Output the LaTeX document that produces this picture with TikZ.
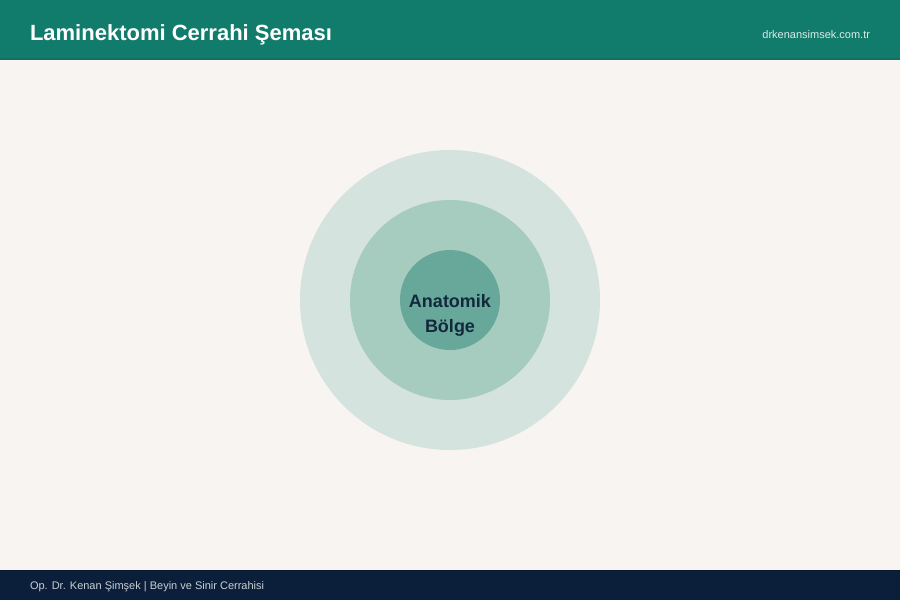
\documentclass[tikz,border=0pt]{standalone}
\usepackage{fontspec}
\setmainfont{Liberation Sans}
\usetikzlibrary{positioning}
\definecolor{headteal}{HTML}{127C6C}
\definecolor{headline}{HTML}{0F7062}
\definecolor{pagebg}{HTML}{F7F4F1}
\definecolor{footnavy}{HTML}{0B1F3A}
\definecolor{ringout}{HTML}{D5E3DE}
\definecolor{ringmid}{HTML}{A6CBBF}
\definecolor{ringin}{HTML}{67A89A}
\definecolor{coretext}{HTML}{12283D}
\tikzset{
    x=1pt, y=-1pt,
    bar/.style = { inner sep=0pt, outer sep=0pt },
    title/.style = { bar, anchor=west, font=\fontsize{22}{25}\selectfont\bfseries, color=white },
    site/.style = { bar, anchor=east, font=\fontsize{11}{13}\selectfont, color=white!85!headteal },
    foot/.style = { bar, anchor=west, font=\fontsize{11}{13}\selectfont, color=white!78!footnavy },
    ring/.style = { circle, inner sep=0pt, outer sep=0pt },
    core/.style = { ring, align=center, text=coretext,
        font=\fontsize{18}{25}\selectfont\bfseries }
}
\begin{document}
\begin{tikzpicture}
    \useasboundingbox (0,0) rectangle (900,600);
    \fill[pagebg] (0,0) rectangle (900,600);

    % header...
    \fill[headteal] (0,0) rectangle (900,60);
    \draw[headline, line width=1.5pt] (0,59) -- (900,59);
    \node[title] (head) at (30,34.5) {Laminektomi Cerrahi Şeması};
    \node[site] (web) at (870,35) {drkenansimsek.com.tr};

    % rings...
    \node[ring, fill=ringout, minimum size=300] (outer) at (450,300) {};
    \node[ring, fill=ringmid, minimum size=200] (middle) at (outer.center) {};
    \node[ring, fill=ringin, minimum size=100] (inner) at (middle.center) {};
    \node[core] (label) at (450,315) {Anatomik\\Bölge};

    % footer...
    \fill[footnavy] (0,570) rectangle (900,600);
    \draw[footnavy!80!black, line width=1.5pt] (0,570.5) -- (900,570.5);
    \node[foot] (sign) at (30,587) {Op. Dr. Kenan Şimşek | Beyin ve Sinir Cerrahisi};
\end{tikzpicture}
\end{document}
